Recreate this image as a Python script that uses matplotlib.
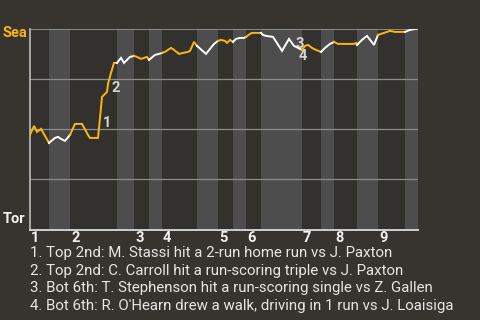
import matplotlib.pyplot as plt

plt.rcParams["font.family"] = ["Roboto", "DejaVu Sans"]

BG = "#37342f"
ORANGE = "#fdb515"
WHITE = "#ffffff"
BAND = "#4d4d4d"

# game progress (plays) and Seattle win probability (%)
play_x = [
    0, 1, 1.75, 2.75, 4.75,
    6.25, 7, 7.75, 8.75, 10,
    11.25, 13, 14.5, 15, 17, 17.5, 18, 19.25, 19.5, 20.25, 21, 21.75,
    22.75, 23.5, 24.25, 25, 26,
    26.75, 27.75, 28.5, 29.25, 29.75,
    31.25, 32.25, 33,
    33.75, 35.25, 36, 37.25, 38.25, 39.5, 40, 41, 41.75,
    44, 45, 46, 47,
    47.75, 48.75, 49.25, 50, 50.75,
    51.5, 52.5, 53.5, 54,
    55, 55.5, 57.75,
    58.25, 59, 60.75, 63, 64.75, 66, 68,
    68.75, 69.5, 70.5, 71.5, 72.75,
    73.75, 75, 76,
    77, 81, 81.5, 81.75,
    83, 84.25, 86, 87,
    88.5, 90, 91.25, 93.75,
    95, 97,
]
sea_wp = [
    46.8, 51.3, 48.3, 49.8, 42.8,
    45.3, 45.8, 44.8, 43.8, 46.8,
    52.3, 52.3, 46.8, 45.3, 45.3, 55.3, 65.8, 68.3, 72.3, 77.8, 82.8, 82.8,
    85.3, 82.8, 84.3, 85.8, 86.3,
    85.8, 84.8, 85.3, 85.8, 84.3,
    86.8, 87.3, 87.8,
    88.3, 90.3, 89.3, 87.3, 87.8, 88.3, 88.8, 93.3, 91.3,
    87.3, 89.8, 92.3, 93.8,
    94.3, 93.8, 92.8, 94.3, 93.3,
    94.8, 95.3, 95.3, 95.8,
    97.3, 97.8, 97.8,
    96.8, 96.3, 95.8, 88.8, 94.8, 91.3, 89.3,
    91.3, 91.8, 90.3, 89.3, 88.3,
    90.3, 92.3, 93.3,
    92.3, 92.3, 92.8, 91.8,
    94.3, 96.3, 91.8, 96.8,
    97.8, 98.8, 98.3, 98.3,
    99.3, 100,
]
# x of the last play of each half inning (top 1, bot 1, top 2, ...)
half_ends = [4.75, 10, 21.75, 26, 29.75, 33, 41.75, 47, 50.75, 54,
             57.75, 68, 72.75, 76, 81.75, 87, 93.75, 97]
innings = ["1", "2", "3", "4", "5", "6", "7", "8", "9"]

event_ids = ["1", "2", "3", "4"]
event_x = [17.5, 19.5, 66, 68]
event_offsets = [(3, -5), (3, -4), (1, 2), (-3, -6)]
event_notes = [
    "1. Top 2nd: M. Stassi hit a 2-run home run vs J. Paxton",
    "2. Top 2nd: C. Carroll hit a run-scoring triple vs J. Paxton",
    "3. Bot 6th: T. Stephenson hit a run-scoring single vs Z. Gallen",
    "4. Bot 6th: R. O'Hearn drew a walk, driving in 1 run vs J. Loaisiga",
]

fig = plt.figure(figsize=(4.8, 3.2), dpi=100, facecolor=BG)
ax = fig.add_axes([30 / 480, 90 / 320, 388 / 480, 201.5 / 320])
ax.set_facecolor("#33312d")
ax.set_xlim(0, 97)
ax.set_ylim(-0.75, 100)

starts = [0] + half_ends[:-1]
for i, (x0, x1) in enumerate(zip(starts, half_ends)):
    top = i % 2 == 0
    if not top:
        ax.axvspan(x0, x1, color=BAND, lw=0, zorder=0)
    xs = [x for x in play_x if x0 <= x <= x1]
    ys = [sea_wp[play_x.index(x)] for x in xs]
    ax.plot(xs, ys, color=ORANGE if top else WHITE, lw=1.4,
            solid_joinstyle="miter", zorder=3)

for y in (25, 50, 75):
    ax.axhline(y, color="#8c8c8c", lw=0.9, zorder=1)
ax.axhline(100, color="#999999", lw=1.2, zorder=1)

for name in ("top", "right"):
    ax.spines[name].set_visible(False)
ax.spines["left"].set_color("#bdbdbd")
ax.spines["bottom"].set_color("#cfcfcf")
ax.spines["left"].set_linewidth(1.2)
ax.spines["bottom"].set_linewidth(1.4)
ax.set_xticks([])
ax.set_yticks([])

for label, x0 in zip(innings, starts[::2]):
    ax.annotate(label, (x0, 0), xytext=(1, -3), textcoords="offset pixels",
                ha="left", va="top", color="#f2f2f2", fontsize=10.5,
                fontweight="bold", annotation_clip=False)

for eid, ex, off in zip(event_ids, event_x, event_offsets):
    ey = sea_wp[play_x.index(ex)]
    ax.annotate(eid, (ex, ey), xytext=off, textcoords="offset pixels",
                ha="left", va="center", color="#e6e6e6", fontsize=10.5,
                fontweight="bold", alpha=0.9, zorder=4)

fig.text(2.5 / 480, 1 - 33 / 320, "Sea", color=ORANGE, fontsize=10.5,
         fontweight="bold", va="center", ha="left")
fig.text(2.5 / 480, 1 - 219 / 320, "Tor", color="#f2f2f2", fontsize=10.5,
         fontweight="bold", va="center", ha="left")

for i, note in enumerate(event_notes):
    fig.text(30 / 480, 1 - (253 + 17.6 * i) / 320, note, color="#e6e6e6",
             fontsize=10.8, va="center", ha="left")

fig.savefig("out.png", dpi=100, facecolor=BG)
